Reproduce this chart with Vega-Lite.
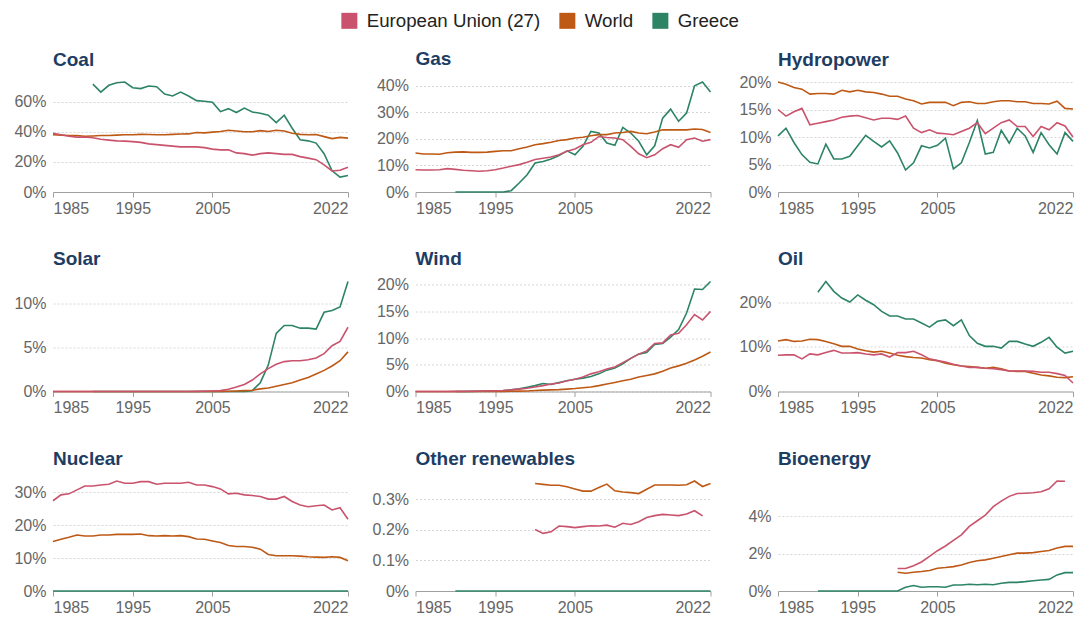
{
  "$schema": "https://vega.github.io/schema/vega-lite/v6.json",
  "padding": {"left": 13, "top": 11, "right": 0, "bottom": 0},
  "config": {
    "font": "Liberation Sans",
    "view": {"stroke": null},
    "axis": {"labelFont": "Liberation Sans", "labelFontSize": 16, "labelColor": "#666666", "title": null},
    "axisX": {"grid": false, "domainColor": "#a0a0a0", "tickColor": "#a0a0a0", "tickSize": 5, "labelPadding": 3, "labelFlush": true, "labelFlushOffset": 0},
    "axisY": {"domain": false, "ticks": false, "tickSize": 0, "labelPadding": 7, "gridColor": "#d6d6d6", "gridDash": [2, 2], "gridWidth": 1},
    "title": {"anchor": "start", "frame": "group", "font": "Liberation Sans", "fontSize": 19, "fontWeight": "bold", "color": "#1d3d63", "baseline": "alphabetic", "offset": 9},
    "legend": {"orient": "none", "direction": "horizontal", "columns": 3, "legendX": 287, "legendY": -71, "padding": 0, "symbolType": "square", "symbolSize": 256, "symbolStrokeWidth": 0, "symbolOpacity": 1, "labelFont": "Liberation Sans", "labelFontSize": 18.7, "labelColor": "#222222", "labelOffset": 8, "labelLimit": 400, "columnPadding": 17, "title": null}
  },
  "datasets": {
    "coal": [
      {"year":1985,"eu":39,"world":38,"gr":null},{"year":1986,"eu":38,"world":37.8,"gr":null},{"year":1987,"eu":37,"world":37.5,"gr":null},{"year":1988,"eu":36.5,"world":37.5,"gr":null},{"year":1989,"eu":36.5,"world":37,"gr":null},
      {"year":1990,"eu":36,"world":37.2,"gr":71.7},{"year":1991,"eu":35,"world":37.5,"gr":66.4},{"year":1992,"eu":34.5,"world":37.5,"gr":70.9},{"year":1993,"eu":34,"world":37.8,"gr":72.6},{"year":1994,"eu":33.8,"world":38,"gr":73.1},
      {"year":1995,"eu":33.5,"world":38,"gr":69.3},{"year":1996,"eu":33,"world":38.3,"gr":68.7},{"year":1997,"eu":32,"world":38.2,"gr":70.4},{"year":1998,"eu":31.5,"world":38,"gr":70},{"year":1999,"eu":31,"world":38,"gr":65.1},
      {"year":2000,"eu":30.5,"world":38.3,"gr":63.8},{"year":2001,"eu":30,"world":38.5,"gr":66.4},{"year":2002,"eu":30,"world":38.6,"gr":63.8},{"year":2003,"eu":30,"world":39.5,"gr":60.7},{"year":2004,"eu":29.5,"world":39.3,"gr":60.3},
      {"year":2005,"eu":28.5,"world":39.8,"gr":59.6},{"year":2006,"eu":28,"world":40.2,"gr":53.4},{"year":2007,"eu":28,"world":41,"gr":55.4},{"year":2008,"eu":26,"world":40.5,"gr":52.8},{"year":2009,"eu":25.5,"world":40,"gr":55.8},
      {"year":2010,"eu":24.5,"world":40,"gr":53.2},{"year":2011,"eu":25.5,"world":40.8,"gr":52.3},{"year":2012,"eu":26,"world":40.2,"gr":51},{"year":2013,"eu":25.5,"world":41,"gr":46.1},{"year":2014,"eu":25,"world":40.5,"gr":51},
      {"year":2015,"eu":25,"world":39,"gr":42.4},{"year":2016,"eu":23.5,"world":38.3,"gr":34.7},{"year":2017,"eu":22.5,"world":38,"gr":34},{"year":2018,"eu":21.5,"world":38.2,"gr":32.5},{"year":2019,"eu":18,"world":36.8,"gr":25.4},
      {"year":2020,"eu":14,"world":35.5,"gr":14.1},{"year":2021,"eu":14.5,"world":36.3,"gr":9.9},{"year":2022,"eu":16.5,"world":35.8,"gr":11}
    ],
    "gas": [
      {"year":1985,"eu":8.4,"world":14.7,"gr":null},{"year":1986,"eu":8.3,"world":14.3,"gr":null},{"year":1987,"eu":8.3,"world":14.3,"gr":null},{"year":1988,"eu":8.4,"world":14.2,"gr":null},{"year":1989,"eu":8.8,"world":14.8,"gr":null},
      {"year":1990,"eu":8.5,"world":15,"gr":0},{"year":1991,"eu":8.2,"world":15.1,"gr":0},{"year":1992,"eu":8,"world":14.9,"gr":0},{"year":1993,"eu":7.8,"world":14.9,"gr":0},{"year":1994,"eu":8,"world":15,"gr":0},
      {"year":1995,"eu":8.4,"world":15.3,"gr":0},{"year":1996,"eu":9,"world":15.5,"gr":0},{"year":1997,"eu":9.7,"world":15.5,"gr":0.5},{"year":1998,"eu":10.3,"world":16.3,"gr":3.4},{"year":1999,"eu":11.2,"world":16.9,"gr":6.5},
      {"year":2000,"eu":12.2,"world":17.8,"gr":10.9},{"year":2001,"eu":12.7,"world":18.2,"gr":11.5},{"year":2002,"eu":13.2,"world":18.7,"gr":12.4},{"year":2003,"eu":14,"world":19.4,"gr":13.7},{"year":2004,"eu":15.3,"world":19.7,"gr":15.5},
      {"year":2005,"eu":16.2,"world":20.3,"gr":14},{"year":2006,"eu":17.8,"world":20.6,"gr":17.2},{"year":2007,"eu":18.7,"world":21.2,"gr":22.8},{"year":2008,"eu":20.9,"world":21.6,"gr":22.2},{"year":2009,"eu":20.5,"world":21.6,"gr":18.4},
      {"year":2010,"eu":20.3,"world":22.2,"gr":17.6},{"year":2011,"eu":19.7,"world":22.4,"gr":24.3},{"year":2012,"eu":17.2,"world":22.8,"gr":22.2},{"year":2013,"eu":14.4,"world":22.2,"gr":19.1},{"year":2014,"eu":12.9,"world":21.9,"gr":14},
      {"year":2015,"eu":14,"world":22.6,"gr":17.4},{"year":2016,"eu":16.3,"world":23.4,"gr":27.8},{"year":2017,"eu":17.8,"world":23.4,"gr":31.2},{"year":2018,"eu":16.8,"world":23.4,"gr":26.6},{"year":2019,"eu":19.7,"world":23.4,"gr":29.7},
      {"year":2020,"eu":20.3,"world":23.7,"gr":40},{"year":2021,"eu":19.1,"world":23.5,"gr":41.4},{"year":2022,"eu":19.7,"world":22.4,"gr":37.6}
    ],
    "hydro": [
      {"year":1985,"eu":15,"world":20,"gr":10.2},{"year":1986,"eu":13.8,"world":19.6,"gr":11.6},{"year":1987,"eu":14.6,"world":19,"gr":9},{"year":1988,"eu":15.2,"world":18.7,"gr":6.8},{"year":1989,"eu":12.2,"world":17.8,"gr":5.4},
      {"year":1990,"eu":12.5,"world":17.9,"gr":5.1},{"year":1991,"eu":12.8,"world":17.9,"gr":8.7},{"year":1992,"eu":13.1,"world":17.8,"gr":6},{"year":1993,"eu":13.6,"world":18.5,"gr":6},{"year":1994,"eu":13.8,"world":18.2,"gr":6.5},
      {"year":1995,"eu":13.9,"world":18.5,"gr":8.4},{"year":1996,"eu":13.5,"world":18.2,"gr":10.3},{"year":1997,"eu":13.1,"world":18.1,"gr":9.2},{"year":1998,"eu":13.4,"world":17.8,"gr":8.2},{"year":1999,"eu":13.4,"world":17.4,"gr":9.3},
      {"year":2000,"eu":13.2,"world":17.4,"gr":7.1},{"year":2001,"eu":13.8,"world":16.9,"gr":4},{"year":2002,"eu":11.6,"world":16.6,"gr":5.3},{"year":2003,"eu":10.8,"world":16,"gr":8.4},{"year":2004,"eu":11.3,"world":16.3,"gr":8},
      {"year":2005,"eu":10.7,"world":16.3,"gr":8.5},{"year":2006,"eu":10.6,"world":16.3,"gr":9.8},{"year":2007,"eu":10.4,"world":15.7,"gr":4.2},{"year":2008,"eu":11,"world":16.3,"gr":5.3},{"year":2009,"eu":11.6,"world":16.4,"gr":9},
      {"year":2010,"eu":12.6,"world":16.1,"gr":13},{"year":2011,"eu":10.6,"world":16.1,"gr":6.9},{"year":2012,"eu":11.6,"world":16.4,"gr":7.2},{"year":2013,"eu":12.6,"world":16.6,"gr":11.2},{"year":2014,"eu":13.1,"world":16.6,"gr":8.9},
      {"year":2015,"eu":11.9,"world":16.4,"gr":11.6},{"year":2016,"eu":11.9,"world":16.4,"gr":10.2},{"year":2017,"eu":10.1,"world":16.1,"gr":7.2},{"year":2018,"eu":11.9,"world":16.1,"gr":10.8},{"year":2019,"eu":11.3,"world":16,"gr":8.6},
      {"year":2020,"eu":12.6,"world":16.5,"gr":6.9},{"year":2021,"eu":12,"world":15.2,"gr":10.8},{"year":2022,"eu":10,"world":15.1,"gr":9.2}
    ],
    "solar": [
      {"year":1985,"eu":0,"world":0,"gr":null},{"year":1986,"eu":0,"world":0,"gr":null},{"year":1987,"eu":0,"world":0,"gr":null},{"year":1988,"eu":0,"world":0,"gr":null},{"year":1989,"eu":0,"world":0,"gr":null},
      {"year":1990,"eu":0,"world":0,"gr":0},{"year":1991,"eu":0,"world":0,"gr":0},{"year":1992,"eu":0,"world":0,"gr":0},{"year":1993,"eu":0,"world":0,"gr":0},{"year":1994,"eu":0,"world":0,"gr":0},
      {"year":1995,"eu":0,"world":0,"gr":0},{"year":1996,"eu":0,"world":0,"gr":0},{"year":1997,"eu":0,"world":0,"gr":0},{"year":1998,"eu":0,"world":0,"gr":0},{"year":1999,"eu":0,"world":0,"gr":0},
      {"year":2000,"eu":0,"world":0,"gr":0},{"year":2001,"eu":0,"world":0,"gr":0},{"year":2002,"eu":0,"world":0,"gr":0},{"year":2003,"eu":0.01,"world":0,"gr":0},{"year":2004,"eu":0.02,"world":0.01,"gr":0},
      {"year":2005,"eu":0.05,"world":0.01,"gr":0},{"year":2006,"eu":0.1,"world":0.01,"gr":0},{"year":2007,"eu":0.25,"world":0.02,"gr":0},{"year":2008,"eu":0.5,"world":0.05,"gr":0},{"year":2009,"eu":0.8,"world":0.1,"gr":0},
      {"year":2010,"eu":1.3,"world":0.15,"gr":0.1},{"year":2011,"eu":2,"world":0.3,"gr":1},{"year":2012,"eu":2.6,"world":0.4,"gr":3},{"year":2013,"eu":3.1,"world":0.6,"gr":6.6},{"year":2014,"eu":3.4,"world":0.8,"gr":7.5},
      {"year":2015,"eu":3.5,"world":1,"gr":7.5},{"year":2016,"eu":3.5,"world":1.3,"gr":7.2},{"year":2017,"eu":3.6,"world":1.6,"gr":7.2},{"year":2018,"eu":3.8,"world":2,"gr":7.1},{"year":2019,"eu":4.3,"world":2.4,"gr":9},
      {"year":2020,"eu":5.2,"world":2.9,"gr":9.2},{"year":2021,"eu":5.7,"world":3.5,"gr":9.6},{"year":2022,"eu":7.3,"world":4.5,"gr":12.5}
    ],
    "wind": [
      {"year":1985,"eu":0,"world":0,"gr":null},{"year":1986,"eu":0,"world":0,"gr":null},{"year":1987,"eu":0,"world":0,"gr":null},{"year":1988,"eu":0,"world":0,"gr":null},{"year":1989,"eu":0.01,"world":0,"gr":null},
      {"year":1990,"eu":0.02,"world":0,"gr":0},{"year":1991,"eu":0.03,"world":0,"gr":0},{"year":1992,"eu":0.05,"world":0,"gr":0.02},{"year":1993,"eu":0.08,"world":0,"gr":0.05},{"year":1994,"eu":0.1,"world":0,"gr":0.1},
      {"year":1995,"eu":0.15,"world":0,"gr":0.15},{"year":1996,"eu":0.2,"world":0.02,"gr":0.2},{"year":1997,"eu":0.3,"world":0.05,"gr":0.3},{"year":1998,"eu":0.45,"world":0.07,"gr":0.5},{"year":1999,"eu":0.6,"world":0.1,"gr":0.8},
      {"year":2000,"eu":0.85,"world":0.2,"gr":1.1},{"year":2001,"eu":1.1,"world":0.25,"gr":1.5},{"year":2002,"eu":1.4,"world":0.3,"gr":1.3},{"year":2003,"eu":1.6,"world":0.35,"gr":1.7},{"year":2004,"eu":2,"world":0.45,"gr":2},
      {"year":2005,"eu":2.3,"world":0.55,"gr":2.3},{"year":2006,"eu":2.7,"world":0.7,"gr":2.5},{"year":2007,"eu":3.3,"world":0.85,"gr":2.8},{"year":2008,"eu":3.7,"world":1.1,"gr":3.3},{"year":2009,"eu":4.2,"world":1.4,"gr":4},
      {"year":2010,"eu":4.6,"world":1.7,"gr":4.4},{"year":2011,"eu":5.4,"world":2,"gr":5.2},{"year":2012,"eu":6.2,"world":2.3,"gr":6.2},{"year":2013,"eu":7,"world":2.7,"gr":7},{"year":2014,"eu":7.6,"world":3,"gr":7.3},
      {"year":2015,"eu":9,"world":3.3,"gr":8.8},{"year":2016,"eu":9.1,"world":3.8,"gr":9},{"year":2017,"eu":10.6,"world":4.4,"gr":10.2},{"year":2018,"eu":10.9,"world":4.8,"gr":11.6},{"year":2019,"eu":12.5,"world":5.3,"gr":14.7},
      {"year":2020,"eu":14.4,"world":5.9,"gr":19.2},{"year":2021,"eu":13.4,"world":6.6,"gr":19.1},{"year":2022,"eu":15,"world":7.4,"gr":20.6}
    ],
    "oil": [
      {"year":1985,"eu":8.1,"world":11.3,"gr":null},{"year":1986,"eu":8.2,"world":11.6,"gr":null},{"year":1987,"eu":8.2,"world":11.2,"gr":null},{"year":1988,"eu":7.3,"world":11.3,"gr":null},{"year":1989,"eu":8.4,"world":11.7,"gr":null},
      {"year":1990,"eu":8.2,"world":11.6,"gr":22.2},{"year":1991,"eu":8.7,"world":11.2,"gr":24.6},{"year":1992,"eu":9.2,"world":10.7,"gr":22.4},{"year":1993,"eu":8.6,"world":10.1,"gr":20.9},{"year":1994,"eu":8.6,"world":10.1,"gr":20},
      {"year":1995,"eu":8.7,"world":9.5,"gr":21.6},{"year":1996,"eu":8.4,"world":9.1,"gr":20.4},{"year":1997,"eu":8.2,"world":8.8,"gr":19.4},{"year":1998,"eu":8.4,"world":9,"gr":17.9},{"year":1999,"eu":7.7,"world":8.6,"gr":16.9},
      {"year":2000,"eu":8.7,"world":8.1,"gr":16.9},{"year":2001,"eu":8.7,"world":7.8,"gr":16.2},{"year":2002,"eu":9,"world":7.6,"gr":16.2},{"year":2003,"eu":8.2,"world":7.5,"gr":15.3},{"year":2004,"eu":7.3,"world":7.1,"gr":14.4},
      {"year":2005,"eu":6.9,"world":6.9,"gr":15.7},{"year":2006,"eu":6.6,"world":6.3,"gr":16},{"year":2007,"eu":6.1,"world":6,"gr":14.7},{"year":2008,"eu":5.7,"world":5.7,"gr":16},{"year":2009,"eu":5.4,"world":5.6,"gr":12.5},
      {"year":2010,"eu":5.4,"world":5.4,"gr":10.8},{"year":2011,"eu":5.2,"world":5.2,"gr":10.1},{"year":2012,"eu":5.1,"world":5.4,"gr":10.1},{"year":2013,"eu":4.9,"world":5.1,"gr":9.7},{"year":2014,"eu":4.6,"world":4.6,"gr":11.2},
      {"year":2015,"eu":4.6,"world":4.5,"gr":11.2},{"year":2016,"eu":4.6,"world":4.5,"gr":10.6},{"year":2017,"eu":4.5,"world":4.1,"gr":10.1},{"year":2018,"eu":4.3,"world":3.7,"gr":11},{"year":2019,"eu":4.3,"world":3.5,"gr":12.1},
      {"year":2020,"eu":4,"world":3.2,"gr":9.9},{"year":2021,"eu":3.6,"world":3.1,"gr":8.6},{"year":2022,"eu":1.9,"world":3.3,"gr":9}
    ],
    "nuclear": [
      {"year":1985,"eu":27.4,"world":15,"gr":0},{"year":1986,"eu":29.2,"world":15.7,"gr":0},{"year":1987,"eu":29.5,"world":16.3,"gr":0},{"year":1988,"eu":30.7,"world":17,"gr":0},{"year":1989,"eu":31.9,"world":16.7,"gr":0},
      {"year":1990,"eu":31.9,"world":16.7,"gr":0},{"year":1991,"eu":32.2,"world":17,"gr":0},{"year":1992,"eu":32.4,"world":17,"gr":0},{"year":1993,"eu":33.4,"world":17.2,"gr":0},{"year":1994,"eu":32.7,"world":17.2,"gr":0},
      {"year":1995,"eu":32.7,"world":17.2,"gr":0},{"year":1996,"eu":33.2,"world":17.3,"gr":0},{"year":1997,"eu":33.2,"world":16.8,"gr":0},{"year":1998,"eu":32.4,"world":16.7,"gr":0},{"year":1999,"eu":32.7,"world":16.8,"gr":0},
      {"year":2000,"eu":32.7,"world":16.7,"gr":0},{"year":2001,"eu":32.7,"world":16.8,"gr":0},{"year":2002,"eu":33,"world":16.5,"gr":0},{"year":2003,"eu":32.2,"world":15.8,"gr":0},{"year":2004,"eu":32.2,"world":15.7,"gr":0},
      {"year":2005,"eu":31.7,"world":15.2,"gr":0},{"year":2006,"eu":31,"world":14.7,"gr":0},{"year":2007,"eu":29.5,"world":13.8,"gr":0},{"year":2008,"eu":29.7,"world":13.5,"gr":0},{"year":2009,"eu":29.2,"world":13.5,"gr":0},
      {"year":2010,"eu":29,"world":13.3,"gr":0},{"year":2011,"eu":28.7,"world":12.7,"gr":0},{"year":2012,"eu":27.9,"world":11.1,"gr":0},{"year":2013,"eu":27.9,"world":10.7,"gr":0},{"year":2014,"eu":28.7,"world":10.7,"gr":0},
      {"year":2015,"eu":27.2,"world":10.7,"gr":0},{"year":2016,"eu":26.1,"world":10.6,"gr":0},{"year":2017,"eu":25.6,"world":10.4,"gr":0},{"year":2018,"eu":25.9,"world":10.3,"gr":0},{"year":2019,"eu":26.1,"world":10.2,"gr":0},
      {"year":2020,"eu":24.6,"world":10.4,"gr":0},{"year":2021,"eu":25.3,"world":10.2,"gr":0},{"year":2022,"eu":21.8,"world":9.2,"gr":0}
    ],
    "other": [
      {"year":1990,"eu":null,"world":null,"gr":0},{"year":1991,"eu":null,"world":null,"gr":0},{"year":1992,"eu":null,"world":null,"gr":0},{"year":1993,"eu":null,"world":null,"gr":0},{"year":1994,"eu":null,"world":null,"gr":0},
      {"year":1995,"eu":null,"world":null,"gr":0},{"year":1996,"eu":null,"world":null,"gr":0},{"year":1997,"eu":null,"world":null,"gr":0},{"year":1998,"eu":null,"world":null,"gr":0},{"year":1999,"eu":null,"world":null,"gr":0},
      {"year":2000,"eu":0.201,"world":0.351,"gr":0},{"year":2001,"eu":0.188,"world":0.348,"gr":0},{"year":2002,"eu":0.193,"world":0.345,"gr":0},{"year":2003,"eu":0.212,"world":0.345,"gr":0},{"year":2004,"eu":0.21,"world":0.34,"gr":0},
      {"year":2005,"eu":0.207,"world":0.333,"gr":0},{"year":2006,"eu":0.21,"world":0.326,"gr":0},{"year":2007,"eu":0.213,"world":0.326,"gr":0},{"year":2008,"eu":0.212,"world":0.338,"gr":0},{"year":2009,"eu":0.215,"world":0.349,"gr":0},
      {"year":2010,"eu":0.208,"world":0.327,"gr":0},{"year":2011,"eu":0.221,"world":0.323,"gr":0},{"year":2012,"eu":0.217,"world":0.321,"gr":0},{"year":2013,"eu":0.226,"world":0.318,"gr":0},{"year":2014,"eu":0.24,"world":0.332,"gr":0},
      {"year":2015,"eu":0.246,"world":0.346,"gr":0},{"year":2016,"eu":0.25,"world":0.346,"gr":0},{"year":2017,"eu":0.248,"world":0.346,"gr":0},{"year":2018,"eu":0.246,"world":0.345,"gr":0},{"year":2019,"eu":0.251,"world":0.347,"gr":0},
      {"year":2020,"eu":0.262,"world":0.359,"gr":0},{"year":2021,"eu":0.245,"world":0.341,"gr":0},{"year":2022,"eu":null,"world":0.351,"gr":0}
    ],
    "bio": [
      {"year":1990,"eu":null,"world":null,"gr":0},{"year":1991,"eu":null,"world":null,"gr":0},{"year":1992,"eu":null,"world":null,"gr":0},{"year":1993,"eu":null,"world":null,"gr":0},{"year":1994,"eu":null,"world":null,"gr":0},
      {"year":1995,"eu":null,"world":null,"gr":0},{"year":1996,"eu":null,"world":null,"gr":0},{"year":1997,"eu":null,"world":null,"gr":0},{"year":1998,"eu":null,"world":null,"gr":0},{"year":1999,"eu":null,"world":null,"gr":0},
      {"year":2000,"eu":1.2,"world":1,"gr":0},{"year":2001,"eu":1.2,"world":0.95,"gr":0.2},{"year":2002,"eu":1.35,"world":1,"gr":0.29},{"year":2003,"eu":1.55,"world":1.04,"gr":0.2},{"year":2004,"eu":1.85,"world":1.09,"gr":0.23},
      {"year":2005,"eu":2.15,"world":1.21,"gr":0.23},{"year":2006,"eu":2.4,"world":1.25,"gr":0.2},{"year":2007,"eu":2.7,"world":1.3,"gr":0.32},{"year":2008,"eu":3,"world":1.39,"gr":0.32},{"year":2009,"eu":3.45,"world":1.52,"gr":0.36},
      {"year":2010,"eu":3.75,"world":1.61,"gr":0.33},{"year":2011,"eu":4.05,"world":1.66,"gr":0.36},{"year":2012,"eu":4.5,"world":1.75,"gr":0.33},{"year":2013,"eu":4.8,"world":1.84,"gr":0.41},{"year":2014,"eu":5.05,"world":1.93,"gr":0.46},
      {"year":2015,"eu":5.2,"world":2.02,"gr":0.46},{"year":2016,"eu":5.22,"world":2.02,"gr":0.5},{"year":2017,"eu":5.24,"world":2.05,"gr":0.55},{"year":2018,"eu":5.3,"world":2.11,"gr":0.59},{"year":2019,"eu":5.45,"world":2.16,"gr":0.62},
      {"year":2020,"eu":5.87,"world":2.29,"gr":0.86},{"year":2021,"eu":5.86,"world":2.38,"gr":0.98},{"year":2022,"eu":null,"world":2.38,"gr":0.98}
    ]
  },
  "columns": 3,
  "spacing": {"row": 89.5, "column": 67.5},
  "bounds": "flush",
  "resolve": {"scale": {"x": "independent", "y": "independent"}, "axis": {"x": "independent", "y": "independent"}},
  "concat": [
    {
      "data": {"name": "coal"}, "title": {"text": "Coal"}, "width": 295, "height": 110,
      "transform": [{"fold": ["gr", "world", "eu"], "as": ["entity", "share"]}],
      "mark": {"type": "line", "strokeWidth": 1.6},
      "encoding": {
        "x": {"field": "year", "type": "quantitative", "scale": {"domain": [1985, 2022], "nice": false, "zero": false}, "axis": {"values": [1985, 1995, 2005, 2022], "format": "d"}},
        "y": {"field": "share", "type": "quantitative", "scale": {"zero": true, "nice": false}, "axis": {"values": [0, 20, 40, 60], "labelExpr": "datum.value + '%'"}},
        "color": {"field": "entity", "type": "nominal", "scale": {"domain": ["eu", "world", "gr"], "range": ["#C9536D", "#BE5915", "#2C8465"]}, "legend": {"labelExpr": "datum.value == 'eu' ? 'European Union (27)' : datum.value == 'world' ? 'World' : 'Greece'", "encode": {"symbols": {"update": {"fill": {"scale": "color", "field": "value"}, "fillOpacity": {"value": 1}, "strokeWidth": {"value": 0}}}}}}
      }
    },
    {
      "data": {"name": "gas"}, "title": {"text": "Gas"}, "width": 295, "height": 110,
      "transform": [{"fold": ["gr", "world", "eu"], "as": ["entity", "share"]}],
      "mark": {"type": "line", "strokeWidth": 1.6},
      "encoding": {
        "x": {"field": "year", "type": "quantitative", "scale": {"domain": [1985, 2022], "nice": false, "zero": false}, "axis": {"values": [1985, 1995, 2005, 2022], "format": "d"}},
        "y": {"field": "share", "type": "quantitative", "scale": {"zero": true, "nice": false}, "axis": {"values": [0, 10, 20, 30, 40], "labelExpr": "datum.value + '%'"}},
        "color": {"field": "entity", "type": "nominal", "scale": {"domain": ["eu", "world", "gr"], "range": ["#C9536D", "#BE5915", "#2C8465"]}, "legend": {"labelExpr": "datum.value == 'eu' ? 'European Union (27)' : datum.value == 'world' ? 'World' : 'Greece'", "encode": {"symbols": {"update": {"fill": {"scale": "color", "field": "value"}, "fillOpacity": {"value": 1}, "strokeWidth": {"value": 0}}}}}}
      }
    },
    {
      "data": {"name": "hydro"}, "title": {"text": "Hydropower", "offset": 4}, "width": 295, "height": 110,
      "transform": [{"fold": ["gr", "world", "eu"], "as": ["entity", "share"]}],
      "mark": {"type": "line", "strokeWidth": 1.6},
      "encoding": {
        "x": {"field": "year", "type": "quantitative", "scale": {"domain": [1985, 2022], "nice": false, "zero": false}, "axis": {"values": [1985, 1995, 2005, 2022], "format": "d"}},
        "y": {"field": "share", "type": "quantitative", "scale": {"zero": true, "nice": false}, "axis": {"values": [0, 5, 10, 15, 20], "labelExpr": "datum.value + '%'"}},
        "color": {"field": "entity", "type": "nominal", "scale": {"domain": ["eu", "world", "gr"], "range": ["#C9536D", "#BE5915", "#2C8465"]}, "legend": {"labelExpr": "datum.value == 'eu' ? 'European Union (27)' : datum.value == 'world' ? 'World' : 'Greece'", "encode": {"symbols": {"update": {"fill": {"scale": "color", "field": "value"}, "fillOpacity": {"value": 1}, "strokeWidth": {"value": 0}}}}}}
      }
    },
    {
      "data": {"name": "solar"}, "title": {"text": "Solar"}, "width": 295, "height": 110,
      "transform": [{"fold": ["gr", "world", "eu"], "as": ["entity", "share"]}],
      "mark": {"type": "line", "strokeWidth": 1.6},
      "encoding": {
        "x": {"field": "year", "type": "quantitative", "scale": {"domain": [1985, 2022], "nice": false, "zero": false}, "axis": {"values": [1985, 1995, 2005, 2022], "format": "d"}},
        "y": {"field": "share", "type": "quantitative", "scale": {"zero": true, "nice": false}, "axis": {"values": [0, 5, 10], "labelExpr": "datum.value + '%'"}},
        "color": {"field": "entity", "type": "nominal", "scale": {"domain": ["eu", "world", "gr"], "range": ["#C9536D", "#BE5915", "#2C8465"]}, "legend": {"labelExpr": "datum.value == 'eu' ? 'European Union (27)' : datum.value == 'world' ? 'World' : 'Greece'", "encode": {"symbols": {"update": {"fill": {"scale": "color", "field": "value"}, "fillOpacity": {"value": 1}, "strokeWidth": {"value": 0}}}}}}
      }
    },
    {
      "data": {"name": "wind"}, "title": {"text": "Wind", "offset": 8}, "width": 295, "height": 110,
      "transform": [{"fold": ["gr", "world", "eu"], "as": ["entity", "share"]}],
      "mark": {"type": "line", "strokeWidth": 1.6},
      "encoding": {
        "x": {"field": "year", "type": "quantitative", "scale": {"domain": [1985, 2022], "nice": false, "zero": false}, "axis": {"values": [1985, 1995, 2005, 2022], "format": "d"}},
        "y": {"field": "share", "type": "quantitative", "scale": {"zero": true, "nice": false}, "axis": {"values": [0, 5, 10, 15, 20], "labelExpr": "datum.value + '%'"}},
        "color": {"field": "entity", "type": "nominal", "scale": {"domain": ["eu", "world", "gr"], "range": ["#C9536D", "#BE5915", "#2C8465"]}, "legend": {"labelExpr": "datum.value == 'eu' ? 'European Union (27)' : datum.value == 'world' ? 'World' : 'Greece'", "encode": {"symbols": {"update": {"fill": {"scale": "color", "field": "value"}, "fillOpacity": {"value": 1}, "strokeWidth": {"value": 0}}}}}}
      }
    },
    {
      "data": {"name": "oil"}, "title": {"text": "Oil"}, "width": 295, "height": 110,
      "transform": [{"fold": ["gr", "world", "eu"], "as": ["entity", "share"]}],
      "mark": {"type": "line", "strokeWidth": 1.6},
      "encoding": {
        "x": {"field": "year", "type": "quantitative", "scale": {"domain": [1985, 2022], "nice": false, "zero": false}, "axis": {"values": [1985, 1995, 2005, 2022], "format": "d"}},
        "y": {"field": "share", "type": "quantitative", "scale": {"zero": true, "nice": false}, "axis": {"values": [0, 10, 20], "labelExpr": "datum.value + '%'"}},
        "color": {"field": "entity", "type": "nominal", "scale": {"domain": ["eu", "world", "gr"], "range": ["#C9536D", "#BE5915", "#2C8465"]}, "legend": {"labelExpr": "datum.value == 'eu' ? 'European Union (27)' : datum.value == 'world' ? 'World' : 'Greece'", "encode": {"symbols": {"update": {"fill": {"scale": "color", "field": "value"}, "fillOpacity": {"value": 1}, "strokeWidth": {"value": 0}}}}}}
      }
    },
    {
      "data": {"name": "nuclear"}, "title": {"text": "Nuclear"}, "width": 295, "height": 110,
      "transform": [{"fold": ["gr", "world", "eu"], "as": ["entity", "share"]}],
      "mark": {"type": "line", "strokeWidth": 1.6},
      "encoding": {
        "x": {"field": "year", "type": "quantitative", "scale": {"domain": [1985, 2022], "nice": false, "zero": false}, "axis": {"values": [1985, 1995, 2005, 2022], "format": "d"}},
        "y": {"field": "share", "type": "quantitative", "scale": {"zero": true, "nice": false}, "axis": {"values": [0, 10, 20, 30], "labelExpr": "datum.value + '%'"}},
        "color": {"field": "entity", "type": "nominal", "scale": {"domain": ["eu", "world", "gr"], "range": ["#C9536D", "#BE5915", "#2C8465"]}, "legend": {"labelExpr": "datum.value == 'eu' ? 'European Union (27)' : datum.value == 'world' ? 'World' : 'Greece'", "encode": {"symbols": {"update": {"fill": {"scale": "color", "field": "value"}, "fillOpacity": {"value": 1}, "strokeWidth": {"value": 0}}}}}}
      }
    },
    {
      "data": {"name": "other"}, "title": {"text": "Other renewables"}, "width": 295, "height": 110,
      "transform": [{"fold": ["gr", "world", "eu"], "as": ["entity", "share"]}],
      "mark": {"type": "line", "strokeWidth": 1.6},
      "encoding": {
        "x": {"field": "year", "type": "quantitative", "scale": {"domain": [1985, 2022], "nice": false, "zero": false}, "axis": {"values": [1985, 1995, 2005, 2022], "format": "d"}},
        "y": {"field": "share", "type": "quantitative", "scale": {"zero": true, "nice": false}, "axis": {"values": [0, 0.1, 0.2, 0.3], "labelExpr": "datum.value + '%'"}},
        "color": {"field": "entity", "type": "nominal", "scale": {"domain": ["eu", "world", "gr"], "range": ["#C9536D", "#BE5915", "#2C8465"]}, "legend": {"labelExpr": "datum.value == 'eu' ? 'European Union (27)' : datum.value == 'world' ? 'World' : 'Greece'", "encode": {"symbols": {"update": {"fill": {"scale": "color", "field": "value"}, "fillOpacity": {"value": 1}, "strokeWidth": {"value": 0}}}}}}
      }
    },
    {
      "data": {"name": "bio"}, "title": {"text": "Bioenergy"}, "width": 295, "height": 110,
      "transform": [{"fold": ["gr", "world", "eu"], "as": ["entity", "share"]}],
      "mark": {"type": "line", "strokeWidth": 1.6},
      "encoding": {
        "x": {"field": "year", "type": "quantitative", "scale": {"domain": [1985, 2022], "nice": false, "zero": false}, "axis": {"values": [1985, 1995, 2005, 2022], "format": "d"}},
        "y": {"field": "share", "type": "quantitative", "scale": {"zero": true, "nice": false}, "axis": {"values": [0, 2, 4], "labelExpr": "datum.value + '%'"}},
        "color": {"field": "entity", "type": "nominal", "scale": {"domain": ["eu", "world", "gr"], "range": ["#C9536D", "#BE5915", "#2C8465"]}, "legend": {"labelExpr": "datum.value == 'eu' ? 'European Union (27)' : datum.value == 'world' ? 'World' : 'Greece'", "encode": {"symbols": {"update": {"fill": {"scale": "color", "field": "value"}, "fillOpacity": {"value": 1}, "strokeWidth": {"value": 0}}}}}}
      }
    }
  ]
}
